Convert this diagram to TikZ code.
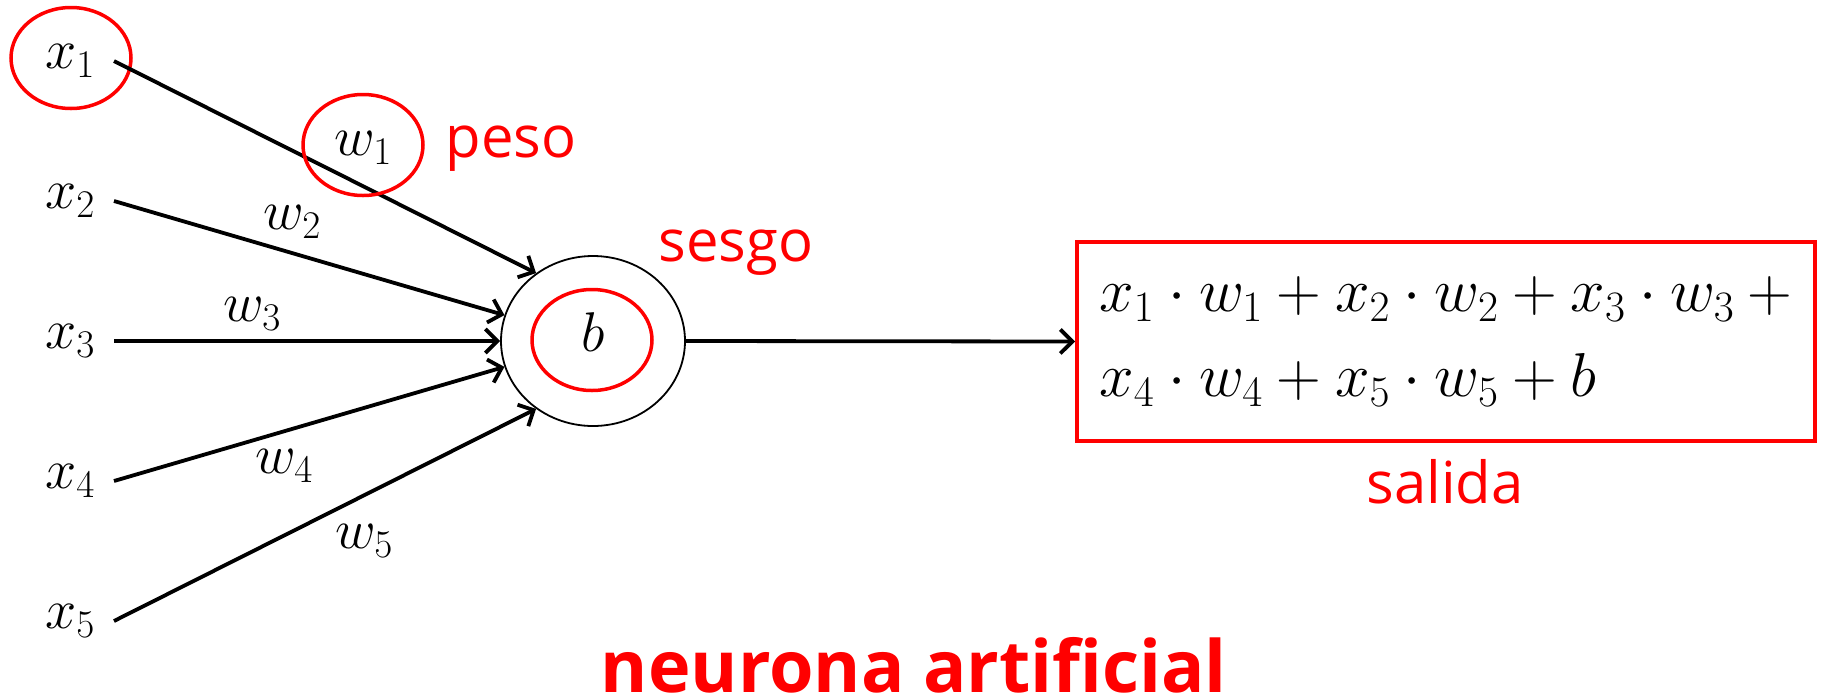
\RequirePackage{fix-cm}
\documentclass[tikz,border=0pt]{standalone}
\usepackage{fontspec}
\newfontfamily\lab{Open Sans}
\usetikzlibrary{arrows.meta,shapes.geometric}
\begin{document}
\begin{tikzpicture}[x=1pt,y=-1pt,
  mlbl/.style={font=\fontsize{56}{60}\selectfont, inner sep=0pt, outer sep=0pt},
  xlbl/.style={mlbl, minimum width=88pt},
  redring/.style={ellipse, draw=red, line width=3.5pt, minimum width=120pt, minimum height=101pt, inner sep=0pt},
  conn/.style={line width=3.8pt, -{Straight Barb[length=12pt,width=24pt]}},
  redtxt/.style={text=red, font=\lab\fontsize{58}{60}\selectfont, inner sep=0pt, anchor=base}
]
\useasboundingbox (0,0) rectangle (1825,697);

% inputs
\node[xlbl] (x1) at (70,61) {$x_1$};
\node[xlbl] (x2) at (70,201) {$x_2$};
\node[xlbl] (x3) at (70,341) {$x_3$};
\node[xlbl] (x4) at (70,481) {$x_4$};
\node[xlbl] (x5) at (70,621) {$x_5$};
\node[redring] (x1ring) at (71,58) {};

% neuron
\node[ellipse, draw, line width=1.8pt, minimum width=184pt, minimum height=170pt, inner sep=0pt] (n) at (593,341) {};
\node[redring] (bias) at (592,340) {};
\node[mlbl] (b) at (593,332) {$b$};

% connectors
\draw[conn] (x1.east) -- (n.130);
\draw[conn] (x2.east) -- (n);
\draw[conn] (x3.east) -- (n);
\draw[conn] (x4.east) -- (n);
\draw[conn] (x5.east) -- (n.230);

% weights
\node[mlbl] (w1) at (363,148) {$w_1$};
\node[redring] (w1ring) at (363,145) {};
\node[mlbl] (w2) at (292,222) {$w_2$};
\node[mlbl] (w3) at (252,314) {$w_3$};
\node[mlbl] (w4) at (284,466) {$w_4$};
\node[mlbl] (w5) at (364,541) {$w_5$};

% output box
\node[draw=red, line width=4pt, minimum width=738pt, minimum height=199pt, align=left,
      font=\fontsize{62}{85}\selectfont, inner sep=0pt] (out) at (1446,341.5)
  {$x_1\cdot w_1+x_2\cdot w_2+x_3\cdot w_3\mskip\medmuskip+$\\$x_4\cdot w_4+x_5\cdot w_5+b$};
\draw[conn] (n.east) -- (out.west);

% red labels
\node[redtxt] (peso) at (511,157) {peso};
\node[redtxt] (sesgo) at (736,261) {sesgo};
\node[redtxt] (salida) at (1445,503) {salida};
\node[text=red, font=\lab\bfseries\fontsize{72}{80}\selectfont, inner sep=0pt, anchor=base] (title) at (914,692) {neurona artificial};
\end{tikzpicture}
\end{document}
